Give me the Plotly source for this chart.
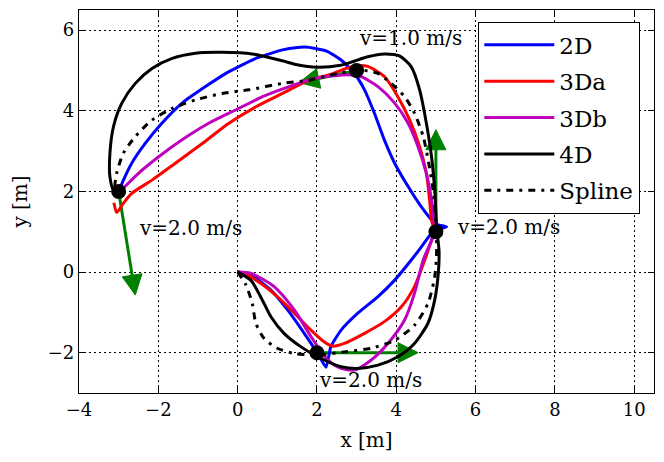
import math
import plotly.graph_objects as go

# ---- data ----
x_2d = [0, 0.33, 0.84, 1.26, 1.68, 2.02, 2.23, 2.35, 2.61, 3.03, 3.54, 3.96, 4.38, 4.63, 4.89, 5.05, 5.27,
        5.05, 4.93, 4.63, 4.3, 3.96, 3.7, 3.45, 3.2, 2.94, 2.61, 2.27, 1.93, 1.7, 1.51, 1.13, 0.46, -0.22,
        -0.81, -1.4, -1.91, -2.33, -2.67, -2.88, -3.0]
y_2d = [0, -0.07, -0.45, -0.94, -1.52, -2.02, -2.36, -1.85, -1.44, -1.02, -0.61, -0.2, 0.3, 0.62, 0.96, 1.05, 1.12,
        1.17, 1.25, 1.62, 2.12, 2.7, 3.28, 3.94, 4.52, 4.93, 5.26, 5.47, 5.55, 5.58, 5.57, 5.51, 5.3, 4.97,
        4.6, 4.19, 3.69, 3.19, 2.7, 2.28, 1.99]

x_3da = [0, 0.16, 0.58, 1.0, 1.43, 1.85, 2.18, 2.4, 2.69, 3.2, 3.7, 4.13, 4.46, 4.72, 4.86, 4.96, 4.89, 4.84,
         4.76, 4.59, 4.34, 4.04, 3.7, 3.28, 3.0, 2.7, 2.35, 1.81, 1.13, 0.46, -0.22, -0.89, -1.57, -2.16,
         -2.67, -2.9, -3.05, -3.12]
y_3da = [0, -0.03, -0.28, -0.61, -1.02, -1.44, -1.73, -1.84, -1.77, -1.52, -1.23, -0.86, -0.36, 0.3, 0.7, 1.0, 1.29, 1.79,
         2.45, 3.11, 3.77, 4.35, 4.85, 5.1, 5.12, 5.04, 4.9, 4.76, 4.43, 4.1, 3.69, 3.19, 2.7, 2.28,
         1.95, 1.68, 1.48, 1.72]

x_3db = [0, 0.33, 0.92, 1.43, 1.85, 2.27, 2.61, 2.94, 3.37, 3.79, 4.21, 4.46, 4.68, 4.89, 4.96, 4.95, 4.89,
         4.76, 4.55, 4.3, 3.96, 3.54, 3.11, 2.86, 2.35, 1.97, 1.3, 0.63, -0.05, -0.73, -1.4, -1.99, -2.5,
         -2.84, -2.96]
y_3db = [0, -0.03, -0.36, -0.94, -1.6, -2.18, -2.39, -2.43, -2.18, -1.77, -1.19, -0.53, 0.3, 0.79, 1.1, 1.29, 1.79,
         2.45, 3.11, 3.69, 4.19, 4.6, 4.85, 4.89, 4.86, 4.81, 4.6, 4.35, 4.02, 3.69, 3.28, 2.86, 2.45,
         2.12, 1.99]

x_4d = [0, 0.33, 0.58, 0.84, 1.17, 1.59, 2.02, 2.61, 3.03, 3.54, 4.04, 4.46, 4.8, 4.97, 5.06, 5.08, 5.02,
        4.97, 4.89, 4.76, 4.59, 4.38, 4.08, 3.7, 3.28, 2.94, 2.6, 2.0, 1.5, 1.13, 0.37, -0.39, -1.06,
        -1.65, -2.16, -2.58, -2.92, -3.13, -3.22, -3.22, -3.13, -3.03]
y_4d = [0, -0.2, -0.61, -1.11, -1.52, -1.85, -2.1, -2.35, -2.39, -2.31, -2.1, -1.77, -1.27, -0.69, -0.03, 0.5, 1.1,
        2.03, 2.86, 3.69, 4.52, 5.09, 5.36, 5.41, 5.34, 5.23, 5.13, 5.08, 5.14, 5.24, 5.41, 5.45, 5.43,
        5.3, 5.05, 4.68, 4.19, 3.61, 2.95, 2.36, 2.03, 1.97]

x_spline = [0, 0.2, 0.37, 0.46, 0.67, 1.0, 1.43, 2.02, 2.69, 3.37, 3.96, 4.46, 4.8, 4.97, 5.01, 5.02, 5.0, 4.99,
            4.93, 4.82, 4.68, 4.46, 4.21, 3.87, 3.54, 3.28, 3.0, 2.35, 1.81, 1.13, 0.29, -0.39, -1.06, -1.65,
            -2.16, -2.58, -2.88, -3.05, -3.09, -3.0]
y_spline = [0, -0.3, -0.78, -1.27, -1.65, -1.89, -2.02, -2.06, -1.98, -1.89, -1.69, -1.32, -0.78, -0.12, 0.3, 0.7, 1.0, 1.37,
            2.03, 2.7, 3.36, 3.94, 4.35, 4.68, 4.93, 4.99, 5.0, 4.89, 4.76, 4.68, 4.52, 4.43, 4.27, 4.06,
            3.77, 3.36, 2.95, 2.45, 2.12, 2.0]

series_names = ["2D", "3Da", "3Db", "4D", "Spline"]

# waypoints and velocity arrows
wp_x = [2, 5, 3, -3]
wp_y = [-2, 1, 5, 2]
arrow_dx = [2.55, 0.0, -1.45, 0.42]
arrow_dy = [0.0, 2.53, -0.3, -2.57]
speed_labels = ["v=2.0 m/s", "v=2.0 m/s", "v=1.0 m/s", "v=2.0 m/s"]

x_ticks = [-4, -2, 0, 2, 4, 6, 8, 10]
y_ticks = [-2, 0, 2, 4, 6]

# ---- layout constants ----
FONT = "DejaVu Serif"
GREEN = "#008000"
X_RANGE = [-4, 10.5]
Y_RANGE = [-3, 6.5]
W, H = 656, 454          # page body adds an 8px margin
M = dict(l=71, r=10, t=2, b=69)
PLOT_W = W - M["l"] - M["r"]
PLOT_H = H - M["t"] - M["b"]
SX = PLOT_W / (X_RANGE[1] - X_RANGE[0])   # px per data unit
SY = PLOT_H / (Y_RANGE[1] - Y_RANGE[0])
HEAD_L, HEAD_HW = 20.0, 10.0               # arrow head length / half width in px

fig = go.Figure()

# velocity arrows (below the curves)
for i in range(len(wp_x)):
    x0, y0 = wp_x[i], wp_y[i]
    x1, y1 = x0 + arrow_dx[i], y0 + arrow_dy[i]
    ux, uy = arrow_dx[i] * SX, arrow_dy[i] * SY
    n = math.hypot(ux, uy)
    ex, ey = ux / n, uy / n
    px, py = -ey, ex
    bx, by = x1 - HEAD_L * ex / SX, y1 - HEAD_L * ey / SY
    hx = [x1, bx + HEAD_HW * px / SX, bx - HEAD_HW * px / SX, x1]
    hy = [y1, by + HEAD_HW * py / SY, by - HEAD_HW * py / SY, y1]
    fig.add_trace(go.Scatter(x=[x0, bx], y=[y0, by], mode="lines",
                             line=dict(color=GREEN, width=3),
                             showlegend=False, hoverinfo="skip"))
    fig.add_trace(go.Scatter(x=hx, y=hy, mode="lines", fill="toself",
                             fillcolor=GREEN, line=dict(color=GREEN, width=1),
                             showlegend=False, hoverinfo="skip"))

curves = [(x_2d, y_2d, "#0000ff", None, 0.5), (x_3da, y_3da, "#ff0000", None, 0.7),
          (x_3db, y_3db, "#bf00bf", None, 0.7), (x_4d, y_4d, "#000000", None, 0.7),
          (x_spline, y_spline, "#000000", "7px,6px,3px,6px", 0.7)]
for (xs, ys, col, dash, sm), name in zip(curves, series_names):
    ln = dict(color=col, width=3, shape="spline", smoothing=sm)
    if dash:
        ln["dash"] = dash
    fig.add_trace(go.Scatter(x=xs, y=ys, mode="lines", name=name, line=ln,
                             legendgroup=name))

fig.add_trace(go.Scatter(x=wp_x, y=wp_y, mode="markers",
                         marker=dict(color="black", size=15),
                         showlegend=False, hoverinfo="skip"))

# speed labels (offsets from waypoint)
offsets = [(0.0, -0.68), (0.47, 0.12), (0.0, 0.8), (0.47, -0.9)]
for i, lab in enumerate(speed_labels):
    fig.add_annotation(x=wp_x[i] + offsets[i][0], y=wp_y[i] + offsets[i][1], text=lab,
                       showarrow=False, xanchor="left", yanchor="middle",
                       font=dict(family=FONT, size=20, color="black"))

axis_common = dict(showline=True, linecolor="black", linewidth=1.3, mirror="ticks",
                   ticks="inside", ticklen=6, tickcolor="black", tickwidth=1,
                   showgrid=True, gridcolor="black", gridwidth=0.8, griddash="1.5px,3.5px",
                   zeroline=False, automargin=False,
                   tickfont=dict(family=FONT, size=18, color="black"))

fig.update_layout(
    width=W, height=H,
    margin=dict(**M, autoexpand=False),
    paper_bgcolor="white", plot_bgcolor="white",
    font=dict(family=FONT, size=18, color="black"),
    xaxis=dict(range=X_RANGE, tickvals=x_ticks, title=dict(text="x [m]", standoff=14,
               font=dict(family=FONT, size=20)), **axis_common),
    yaxis=dict(range=Y_RANGE, tickvals=y_ticks, title=dict(text="y [m]", standoff=14,
               font=dict(family=FONT, size=20)), **axis_common),
    legend=dict(x=(640 - 79) / PLOT_W, y=1 - (22 - 10) / PLOT_H, xanchor="right", yanchor="top",
                bgcolor="white", bordercolor="black", borderwidth=1.3,
                font=dict(family=FONT, size=23, color="black"),
                traceorder="grouped", tracegroupgap=3.5, itemwidth=70),
    showlegend=True,
)

fig.write_html("out.html")
